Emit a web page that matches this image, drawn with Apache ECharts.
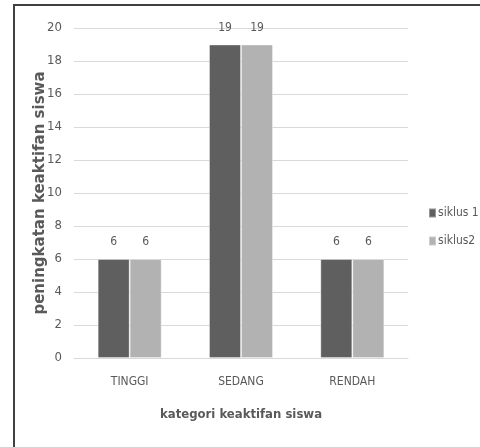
<!DOCTYPE html>
<html>
<head>
<meta charset="utf-8">
<script src="https://cdn.jsdelivr.net/npm/echarts@6/dist/echarts.min.js"></script>
<style>
  html, body { margin: 0; padding: 0; background: #fff; }
  #chart { width: 480px; height: 447px; }
</style>
</head>
<body>
<div id="chart"></div>
<script>
// Student activity by category, two cycles
const categories = ['TINGGI', 'SEDANG', 'RENDAH'];
const siklus1 = [6, 19, 6];
const siklus2 = [6, 19, 6];
const seriesNames = ['siklus 1', 'siklus2'];
const yTicks = { min: 0, max: 20, interval: 2 };

const narrow = '"DejaVu Sans Condensed", "Liberation Sans Narrow", sans-serif';
const labelColor = '#595959';

const chart = echarts.init(document.getElementById('chart'), null, { renderer: 'canvas' });

function barSeries(name, data, color) {
  return {
    name: name,
    type: 'bar',
    data: data,
    barWidth: 32,
    barGap: '0%',
    itemStyle: { color: color, borderColor: 'rgba(255,255,255,0.35)', borderWidth: 1 },
    label: {
      show: true,
      position: 'top',
      distance: 11,
      color: labelColor,
      fontFamily: narrow,
      fontSize: 12
    }
  };
}

chart.setOption({
  animation: false,
  backgroundColor: '#ffffff',
  grid: { left: 74, right: 72, top: 28, bottom: 89, containLabel: false },
  legend: {
    orient: 'vertical',
    left: 428,
    top: 207,
    padding: 0,
    itemWidth: 7,
    itemHeight: 9,
    itemGap: 16,
    icon: 'rect',
    textStyle: { color: labelColor, fontFamily: narrow, fontSize: 12, padding: [0, 0, 0, -3] },
    data: seriesNames
  },
  xAxis: {
    type: 'category',
    data: categories,
    axisLine: { show: true, lineStyle: { color: '#d9d9d9' } },
    axisTick: { show: false },
    axisLabel: { color: labelColor, fontFamily: narrow, fontSize: 12, margin: 18 },
    name: 'kategori keaktifan siswa',
    nameLocation: 'middle',
    nameGap: 50,
    nameMoveOverlap: false,
    nameTextStyle: { color: labelColor, fontFamily: narrow, fontSize: 13, fontWeight: 'bold' }
  },
  yAxis: {
    type: 'value',
    min: yTicks.min,
    max: yTicks.max,
    interval: yTicks.interval,
    axisLine: { show: false },
    axisTick: { show: false },
    splitLine: { lineStyle: { color: '#d9d9d9' } },
    axisLabel: { color: labelColor, fontFamily: narrow, fontSize: 13, margin: 12 },
    name: 'peningkatan keaktifan siswa',
    nameLocation: 'middle',
    nameGap: 26,
    nameMoveOverlap: false,
    nameTextStyle: { color: labelColor, fontFamily: '"DejaVu Sans", sans-serif', fontSize: 15, fontWeight: 'bold' }
  },
  series: [
    barSeries(seriesNames[0], siklus1, '#5f5f5f'),
    barSeries(seriesNames[1], siklus2, '#b2b2b2')
  ],
  graphic: [
    { type: 'line', shape: { x1: 14, y1: 4, x2: 14, y2: 447 }, style: { stroke: '#404040', lineWidth: 2 } },
    { type: 'line', shape: { x1: 13, y1: 5, x2: 480, y2: 5 }, style: { stroke: '#404040', lineWidth: 2 } }
  ]
});
</script>
</body>
</html>
